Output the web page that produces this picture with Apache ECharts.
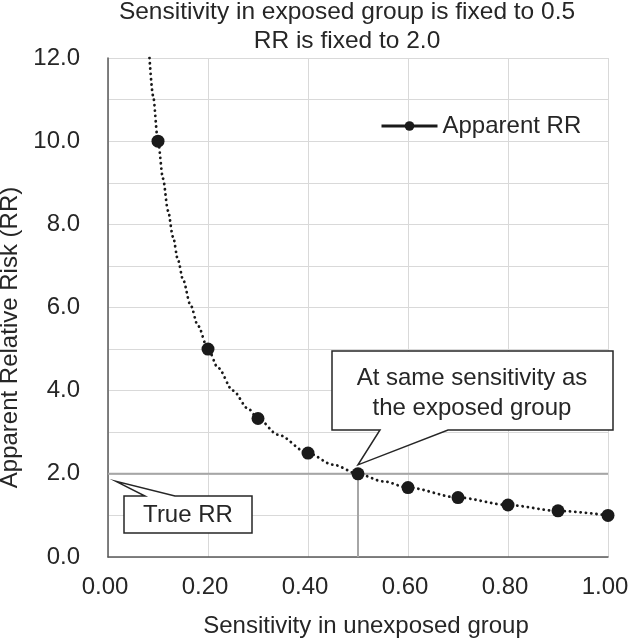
<!DOCTYPE html>
<html>
<head>
<meta charset="utf-8">
<script src="https://cdn.jsdelivr.net/npm/echarts@6/dist/echarts.min.js"></script>
<style>
  html, body { margin: 0; padding: 0; background: #fff; }
  #chart { width: 628px; height: 638px; }
</style>
</head>
<body>
<div id="chart"></div>
<script>
// measured points (sensitivity in unexposed group, apparent RR)
var sensitivity = [0.1, 0.2, 0.3, 0.4, 0.5, 0.6, 0.7, 0.8, 0.9, 1.0];
var apparentRR = [10.0, 5.0, 3.33, 2.5, 2.0, 1.67, 1.43, 1.25, 1.11, 1.0];
// dotted trend curve
var curveX = [0.083, 0.09, 0.1, 0.11, 0.12, 0.13, 0.14, 0.15, 0.165, 0.18, 0.2, 0.22, 0.25, 0.28, 0.3, 0.34, 0.4, 0.45, 0.5, 0.55, 0.6, 0.7, 0.8, 0.9, 1.0];
var curveY = [12.0, 11.1, 10.0, 9.1, 8.33, 7.7, 7.14, 6.67, 6.06, 5.56, 5.0, 4.55, 4.0, 3.57, 3.33, 2.94, 2.5, 2.22, 2.0, 1.82, 1.67, 1.43, 1.25, 1.11, 1.0];
var trueRR = 2.0;
var exposedSens = 0.5;

var textColor = '#262626';
var fontFam = '"Liberation Sans", Arial, sans-serif';

var myChart = echarts.init(document.getElementById('chart'));

var points = sensitivity.map(function (x, i) { return [x, apparentRR[i]]; });
var curve = curveX.map(function (x, i) { return [x, curveY[i]]; });

var option = {
    backgroundColor: '#fff',
    animation: false,
    textStyle: { fontFamily: fontFam },
    title: {
        text: 'Sensitivity in exposed group is fixed to 0.5\nRR is fixed to 2.0',
        left: 347,
        top: -2,
        padding: 0,
        textAlign: 'center',
        textStyle: { fontSize: 24.5, fontWeight: 'normal', color: textColor, lineHeight: 29, fontFamily: fontFam }
    },
    legend: {
        data: ['Apparent RR'],
        left: 375,
        top: 109,
        itemWidth: 56,
        itemHeight: 12,
        itemGap: 8,
        textStyle: { fontSize: 24, color: textColor, fontFamily: fontFam },
        lineStyle: { color: '#1a1a1a', width: 3, opacity: 1, type: 'solid' },
        itemStyle: { color: '#1a1a1a', opacity: 1 }
    },
    grid: { left: 108, right: 20, top: 58, bottom: 81, outerBoundsMode: 'none', containLabel: false },
    xAxis: {
        type: 'value',
        min: 0,
        max: 1,
        interval: 0.2,
        name: 'Sensitivity in unexposed group',
        nameLocation: 'middle',
        nameGap: 57,
        nameTextStyle: { fontSize: 24, color: textColor, fontFamily: fontFam, padding: [0, 0, 0, 16] },
        axisLine: { show: true, lineStyle: { color: '#595959', width: 1.5 } },
        axisTick: { show: false },
        axisLabel: {
            fontSize: 24, color: textColor, margin: 18, fontFamily: fontFam,
            padding: [0, 6, 0, 0],
            formatter: function (v) { return v.toFixed(2); }
        },
        splitLine: { show: true, lineStyle: { color: '#d9d9d9', width: 1 } }
    },
    yAxis: {
        type: 'value',
        min: 0,
        max: 12,
        interval: 1,
        name: 'Apparent Relative Risk (RR)',
        nameLocation: 'middle',
        nameGap: 86,
        nameTextStyle: { fontSize: 24, color: textColor, fontFamily: fontFam, padding: [0, 60, 0, 0] },
        axisLine: { show: true, lineStyle: { color: '#595959', width: 1.5 } },
        axisTick: { show: false },
        axisLabel: {
            fontSize: 24, color: textColor, margin: 28, fontFamily: fontFam,
            formatter: function (v) { return v % 2 === 0 ? v.toFixed(1) : ''; }
        },
        splitLine: { show: true, lineStyle: { color: '#d9d9d9', width: 1 } }
    },
    series: [
        {
            name: 'true RR line',
            type: 'line',
            data: [[0, trueRR], [1, trueRR]],
            symbol: 'none',
            silent: true,
            lineStyle: { color: '#a6a6a6', width: 2 },
            z: 1
        },
        {
            name: 'exposed line',
            type: 'line',
            data: [[exposedSens, 0], [exposedSens, trueRR]],
            symbol: 'none',
            silent: true,
            lineStyle: { color: '#a6a6a6', width: 2 },
            z: 1
        },
        {
            name: 'trend',
            type: 'line',
            data: curve,
            smooth: 0.3,
            smoothMonotone: 'x',
            symbol: 'none',
            lineStyle: { color: '#1a1a1a', width: 2.8, type: [0.1, 5.2], cap: 'round' },
            z: 2
        },
        {
            name: 'Apparent RR',
            type: 'line',
            data: points,
            symbol: 'circle',
            symbolSize: 13,
            itemStyle: { color: '#1a1a1a' },
            lineStyle: { opacity: 0 },
            z: 3
        }
    ]
};
myChart.setOption(option);

// callouts anchored on data points
function callout(tip, box, baseFrom, baseTo, onTop, lines, cx, cy) {
    var pts;
    if (onTop) {
        pts = [[box[0], box[1]], [baseFrom, box[1]], tip, [baseTo, box[1]],
               [box[2], box[1]], [box[2], box[3]], [box[0], box[3]]];
    } else {
        pts = [[box[0], box[1]], [box[2], box[1]], [box[2], box[3]],
               [baseTo, box[3]], tip, [baseFrom, box[3]], [box[0], box[3]]];
    }
    return [
        {
            type: 'polygon',
            shape: { points: pts },
            style: { fill: '#fff', stroke: '#262626', lineWidth: 1.5 },
            z: 100
        },
        {
            type: 'text',
            x: cx, y: cy,
            style: {
                text: lines, fill: textColor, font: '24px ' + fontFam,
                align: 'center', verticalAlign: 'middle', lineHeight: 30
            },
            z: 101
        }
    ];
}
var tip1 = myChart.convertToPixel({ gridIndex: 0 }, [0.016, 1.82]);
var tip2 = myChart.convertToPixel({ gridIndex: 0 }, [exposedSens, trueRR]);
tip2[1] -= 9;
var g = [].concat(
    callout(tip1, [124, 496, 252, 533], 145, 175, true, 'True RR', 188, 515),
    callout(tip2, [332, 351, 613, 430], 380, 448, false, 'At same sensitivity as\nthe exposed group', 472, 393)
);
myChart.setOption({ graphic: g });
</script>
</body>
</html>
